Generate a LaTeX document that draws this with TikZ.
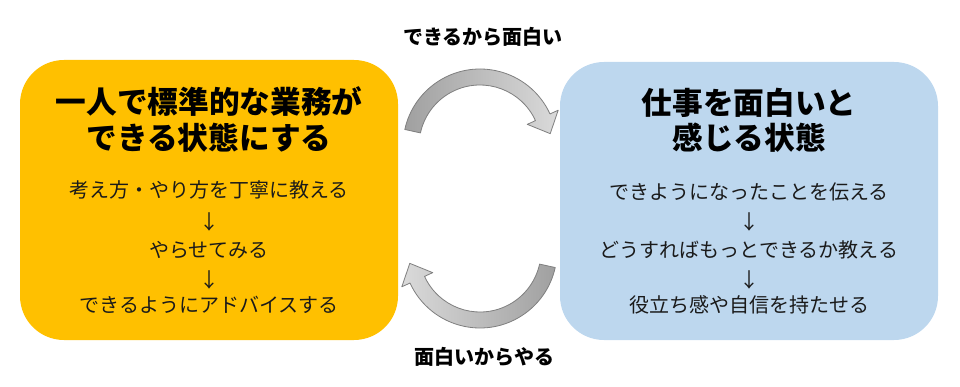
\documentclass[tikz,border=0pt]{standalone}
\usepackage{fontspec}
\setmainfont{Noto Sans CJK JP}
\usetikzlibrary{calc}
\definecolor{boxorange}{HTML}{FFC000}
\definecolor{boxblue}{HTML}{BDD7EE}
\definecolor{darkarr}{HTML}{A0A0A0}
\definecolor{lightarr}{HTML}{DADADA}
\definecolor{arredge}{HTML}{7F7F7F}
\definecolor{bodytext}{HTML}{1A1A1A}
\tikzset{
  panel/.style={rounded corners=42\pgflinewidth, draw=none},
  titletext/.style={font=\fontsize{23}{27}\selectfont\bfseries, text=black, align=center, inner sep=0pt},
  bodyline/.style={font=\fontsize{15}{18}\selectfont, text=bodytext, inner sep=0pt},
  looplabel/.style={font=\fontsize{15}{18}\selectfont\bfseries, text=black, inner sep=0pt},
  arrowshape/.style={draw=arredge, line width=0.6pt, line join=round}
}
\begin{document}
\begin{tikzpicture}[x=0.75pt,y=0.75pt]
\useasboundingbox (0,0) rectangle (960,386);
% panels
\fill[boxorange, rounded corners=33pt] (20,46) rectangle (398,326);
\fill[boxblue, rounded corners=33pt] (560,46) rectangle (938,324);
% left panel text
\node[titletext] (lt1) at (209,284) {一人で標準的な業務が};
\node[titletext] (lt2) at (209,248) {できる状態にする};
\node[bodyline] (l1) at (209,196) {考え方・やり方を丁寧に教える};
\node[bodyline] (la1) at (209,164) {↓};
\node[bodyline] (l2) at (209,136) {やらせてみる};
\node[bodyline] (la2) at (209,106) {↓};
\node[bodyline] (l3) at (209,81) {できるようにアドバイスする};
% right panel text
\node[titletext] (rt1) at (749,283) {仕事を面白いと};
\node[titletext] (rt2) at (749,248) {感じる状態};
\node[bodyline] (r1) at (749,194) {できようになったことを伝える};
\node[bodyline] (ra1) at (749,164) {↓};
\node[bodyline] (r2) at (749,136) {どうすればもっとできるか教える};
\node[bodyline] (ra2) at (749,106) {↓};
\node[bodyline] (r3) at (749,81) {役立ち感や自信を持たせる};
% loop labels
\node[looplabel] (topl) at (483,349) {できるから面白い};
\node[looplabel] (botl) at (484,29) {面白いからやる};
% top curved arrow
\coordinate (ct) at (480,240);
\path[arrowshape, left color=darkarr, right color=lightarr]
  ($(ct)+(167.6:77)$) arc[start angle=167.6, end angle=24.6, radius=77]
  -- ($(ct)+(24.6:86)$)
  -- ($(ct)+(24.6:69)+(-65.4:18)$)
  -- ($(ct)+(24.6:52)$)
  -- ($(ct)+(24.6:61)$)
  arc[start angle=24.6, end angle=167.6, radius=61] -- cycle;
% bottom curved arrow
\coordinate (cb) at (480,135);
\path[arrowshape, left color=lightarr, right color=darkarr]
  ($(cb)+(-12.4:77)$) arc[start angle=-12.4, end angle=-155.4, radius=77]
  -- ($(cb)+(-155.4:86)$)
  -- ($(cb)+(-155.4:69)+(114.6:18)$)
  -- ($(cb)+(-155.4:52)$)
  -- ($(cb)+(-155.4:61)$)
  arc[start angle=-155.4, end angle=-12.4, radius=61] -- cycle;
\end{tikzpicture}
\end{document}
